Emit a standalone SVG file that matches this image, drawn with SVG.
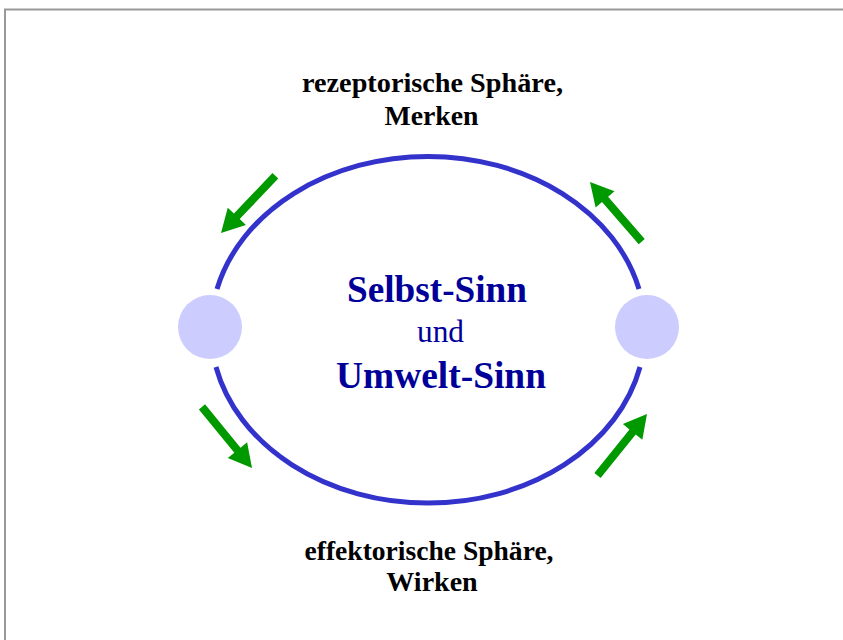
<svg xmlns="http://www.w3.org/2000/svg" width="843" height="640" viewBox="0 0 843 640">
  <defs>
    <!-- block arrow pointing along +x, tip at the origin -->
    <path id="arrow" d="M-79,-4 L-23,-4 L-23,-12.5 L0,0 L-23,12.5 L-23,4 L-79,4 Z" fill="#009900"/>
    <style>
      .frame { fill: none; stroke: #999999; stroke-width: 2; }
      .ring { fill: none; stroke: #3333cc; stroke-width: 5; }
      .pole { fill: #ccccff; }
      .label { font-family: "Liberation Serif", "Times New Roman", serif; font-weight: bold; font-size: 28px; fill: #000000; text-anchor: middle; }
      .core { font-family: "Liberation Serif", "Times New Roman", serif; fill: #000099; text-anchor: middle; }
    </style>
  </defs>
  <rect width="843" height="640" fill="#ffffff"/>
  <path class="frame" d="M5,640 V9.5 H843"/>

  <g id="connectors">
    <path class="ring" d="M217,289 A217,173 0 0 1 639,289"/>
    <path class="ring" d="M216,367 A217,173 0 0 0 640,367"/>
    <use href="#arrow" transform="translate(221,233) rotate(133.5)"/>
    <use href="#arrow" transform="translate(590,182) rotate(-130.9)"/>
    <use href="#arrow" transform="translate(252,468) rotate(50.7)"/>
    <use href="#arrow" transform="translate(647,414) rotate(-51.2)"/>
  </g>

  <g id="pole-left"><circle class="pole" cx="210" cy="327" r="32"/></g>
  <g id="pole-right"><circle class="pole" cx="647" cy="327" r="32"/></g>

  <g id="receptor">
    <text class="label" x="432.5" y="92" textLength="261" lengthAdjust="spacingAndGlyphs">rezeptorische Sphäre,</text>
    <text class="label" x="431.5" y="125" textLength="94" lengthAdjust="spacingAndGlyphs">Merken</text>
  </g>
  <g id="center">
    <text class="core" x="437" y="302" font-size="37.5" font-weight="bold" textLength="180" lengthAdjust="spacingAndGlyphs">Selbst-Sinn</text>
    <text class="core" x="440.5" y="342" font-size="32" textLength="47" lengthAdjust="spacingAndGlyphs">und</text>
    <text class="core" x="441" y="387.5" font-size="37.5" font-weight="bold" textLength="210" lengthAdjust="spacingAndGlyphs">Umwelt-Sinn</text>
  </g>
  <g id="effector">
    <text class="label" x="429" y="559.5" textLength="249" lengthAdjust="spacingAndGlyphs">effektorische Sphäre,</text>
    <text class="label" x="432" y="590.5">Wirken</text>
  </g>
</svg>
